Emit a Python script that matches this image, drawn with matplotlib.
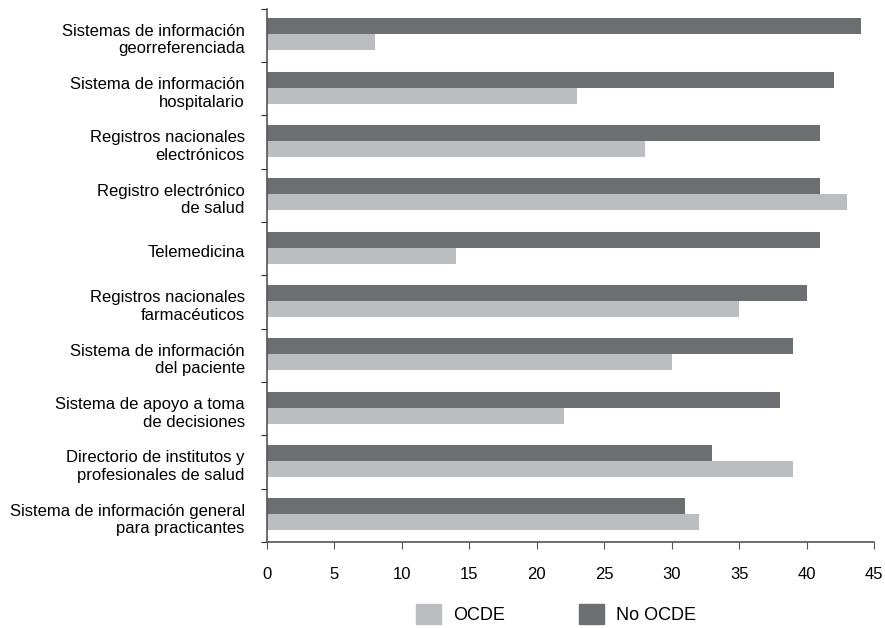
import numpy as np
import matplotlib
matplotlib.use("Agg")
import matplotlib.pyplot as plt
import matplotlib.transforms as mtransforms
from matplotlib.patches import Patch

plt.rcParams['font.family'] = ['Liberation Sans', 'DejaVu Sans']

# Categories, top to bottom
categories = [
    "Sistemas de información\ngeorreferenciada",
    "Sistema de información\nhospitalario",
    "Registros nacionales\nelectrónicos",
    "Registro electrónico\nde salud",
    "Telemedicina",
    "Registros nacionales\nfarmacéuticos",
    "Sistema de información\ndel paciente",
    "Sistema de apoyo a toma\nde decisiones",
    "Directorio de institutos y\nprofesionales de salud",
    "Sistema de información general\npara practicantes",
]
no_ocde = [44, 42, 41, 41, 41, 40, 39, 38, 33, 31]
ocde = [8, 23, 28, 43, 14, 35, 30, 22, 39, 32]
x_ticks = [0, 5, 10, 15, 20, 25, 30, 35, 40, 45]

dark = "#6d6e72"
light = "#bcbdc1"
axis_col = "#555555"

fig = plt.figure(figsize=(8.85, 6.28), dpi=100)
ax = fig.add_axes([267 / 885, 1 - 542 / 628, 607 / 885, 533.4 / 628])

pos = np.arange(len(categories))
h = 0.3
ax.barh(pos - h / 2 - 0.02, no_ocde, height=h, color=dark, label="No OCDE")
ax.barh(pos + h / 2 - 0.02, ocde, height=h, color=light, label="OCDE")

ax.set_xlim(0, 45)
ax.set_ylim(len(categories) - 0.5, -0.5)
ax.set_xticks(x_ticks)
ax.tick_params(axis='x', labelsize=12, length=5, pad=13, color=axis_col, direction='out')

# ticks at category boundaries, labels at centres
ax.set_yticks(np.arange(len(categories) + 1) - 0.5)
ax.set_yticklabels([])
ax.set_yticks(pos, minor=True)
ax.set_yticklabels(categories, minor=True, fontsize=12, ha='right')
ax.tick_params(axis='y', which='major', length=4, color='#222222')
ax.tick_params(axis='y', which='minor', length=0, pad=16)

# nudge category labels down a little
shift = mtransforms.ScaledTranslation(0, -2 / 100, fig.dpi_scale_trans)
for lbl in ax.get_yticklabels(minor=True):
    lbl.set_transform(lbl.get_transform() + shift)

for s in ['top', 'right']:
    ax.spines[s].set_visible(False)
for s in ['left', 'bottom']:
    ax.spines[s].set_color(axis_col)
    ax.spines[s].set_linewidth(1.2)

handles = [Patch(color=light, label="OCDE"), Patch(color=dark, label="No OCDE")]
fig.legend(handles=handles, loc='center', bbox_to_anchor=(556 / 885, 1 - 614 / 628),
           ncol=2, frameon=False, fontsize=13, handlelength=1.39, handleheight=1.39,
           handletextpad=0.67, columnspacing=4.05, borderpad=0, borderaxespad=0)

fig.savefig("out.png", dpi=100)
